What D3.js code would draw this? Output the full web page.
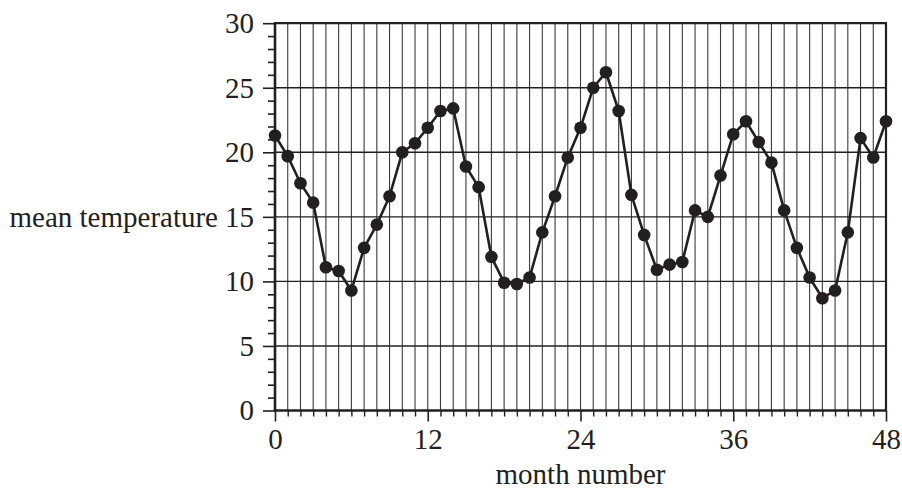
<!DOCTYPE html>
<html>
<head>
<meta charset="utf-8">
<script src="https://cdn.jsdelivr.net/npm/d3@7"></script>
<style>
  html, body { margin: 0; padding: 0; background: #fff; }
  svg { display: block; }
  text { font-family: "Liberation Serif", "Times New Roman", serif; fill: #231f20; }
</style>
</head>
<body>
<svg id="chart" width="902" height="490"></svg>
<script>
// ---- data ----
const months = d3.range(0, 49);
const temperatures = [
  21.3, 19.7, 17.6, 16.1, 11.1, 10.8, 9.3, 12.6, 14.4, 16.6,
  20.0, 20.7, 21.9, 23.2, 23.4, 18.9, 17.3, 11.9, 9.9, 9.8,
  10.3, 13.8, 16.6, 19.6, 21.9, 25.0, 26.2, 23.2, 16.7, 13.6,
  10.9, 11.3, 11.5, 15.5, 15.0, 18.2, 21.4, 22.4, 20.8, 19.2,
  15.5, 12.6, 10.3, 8.7, 9.3, 13.8, 21.1, 19.6, 22.4
];
const xTickLabels = [0, 12, 24, 36, 48];
const yTickLabels = [0, 5, 10, 15, 20, 25, 30];
const xLabel = "month number";
const yLabel = "mean temperature";

// ---- layout ----
const svg = d3.select("#chart");
const pL = 275, pR = 886, pT = 23.2, pB = 410.5;
const ink = "#231f20";
const fs = 29;

const x = d3.scaleLinear().domain([0, 48]).range([pL, pR]);
const y = d3.scaleLinear().domain([0, 30]).range([pB, pT]);

// vertical grid (every month)
svg.append("g")
  .selectAll("line")
  .data(months.slice(1, -1))
  .join("line")
  .attr("x1", d => x(d)).attr("x2", d => x(d))
  .attr("y1", pT).attr("y2", pB)
  .attr("stroke", "#3a3a3a").attr("stroke-width", 1.1);

// horizontal grid (major values)
svg.append("g")
  .selectAll("line")
  .data(yTickLabels.slice(1, -1))
  .join("line")
  .attr("x1", pL).attr("x2", pR)
  .attr("y1", d => y(d)).attr("y2", d => y(d))
  .attr("stroke", ink).attr("stroke-width", 1.4);

// y minor ticks
const yMinor = svg.append("g").attr("transform", `translate(${pL},0)`)
  .call(d3.axisLeft(y).tickValues(d3.range(0, 31).filter(v => v % 5 !== 0)).tickSize(7).tickFormat(""));
yMinor.select(".domain").remove();
yMinor.selectAll("line").attr("stroke", ink).attr("stroke-width", 1.6);

// y major axis
const yAxis = svg.append("g").attr("transform", `translate(${pL},0)`)
  .call(d3.axisLeft(y).tickValues(yTickLabels).tickSize(12).tickPadding(9).tickFormat(d3.format("d")));
yAxis.select(".domain").remove();
yAxis.selectAll("line").attr("stroke", ink).attr("stroke-width", 1.6);
yAxis.selectAll("text").attr("font-size", fs).attr("font-family", "Liberation Serif, serif").attr("fill", ink);

// x minor ticks
const xMinor = svg.append("g").attr("transform", `translate(0,${pB})`)
  .call(d3.axisBottom(x).tickValues(months.filter(m => m % 12 !== 0)).tickSize(6).tickFormat(""));
xMinor.select(".domain").remove();
xMinor.selectAll("line").attr("stroke", ink).attr("stroke-width", 1.4);

// x major axis
const xAxis = svg.append("g").attr("transform", `translate(0,${pB})`)
  .call(d3.axisBottom(x).tickValues(xTickLabels).tickSize(11).tickPadding(7).tickFormat(d3.format("d")));
xAxis.select(".domain").remove();
xAxis.selectAll("line").attr("stroke", ink).attr("stroke-width", 1.6);
xAxis.selectAll("text").attr("font-size", fs).attr("font-family", "Liberation Serif, serif").attr("fill", ink);

// frame
svg.append("line").attr("x1", pL - 1).attr("x2", pR + 1).attr("y1", pT).attr("y2", pT)
  .attr("stroke", ink).attr("stroke-width", 2.2);
svg.append("line").attr("x1", pR).attr("x2", pR).attr("y1", pT).attr("y2", pB)
  .attr("stroke", ink).attr("stroke-width", 2.2);
svg.append("line").attr("x1", pL).attr("x2", pL).attr("y1", pT - 1).attr("y2", pB + 1)
  .attr("stroke", ink).attr("stroke-width", 2.6);
svg.append("line").attr("x1", pL - 1).attr("x2", pR + 1).attr("y1", pB).attr("y2", pB)
  .attr("stroke", ink).attr("stroke-width", 2.6);

// series
const data = months.map((m, i) => ({ m, v: temperatures[i] }));
svg.append("path")
  .datum(data)
  .attr("fill", "none")
  .attr("stroke", ink)
  .attr("stroke-width", 2.6)
  .attr("stroke-linejoin", "round")
  .attr("d", d3.line().x(d => x(d.m)).y(d => y(d.v)));

svg.append("g")
  .selectAll("circle")
  .data(data)
  .join("circle")
  .attr("cx", d => x(d.m)).attr("cy", d => y(d.v))
  .attr("r", 6.3)
  .attr("fill", ink);

// axis titles
svg.append("text")
  .attr("x", (pL + pR) / 2).attr("y", 484)
  .attr("text-anchor", "middle").attr("font-size", fs)
  .text(xLabel);

svg.append("text")
  .attr("x", 218).attr("y", y(15)).attr("dy", "0.35em")
  .attr("text-anchor", "end").attr("font-size", fs)
  .text(yLabel);
</script>
</body>
</html>
